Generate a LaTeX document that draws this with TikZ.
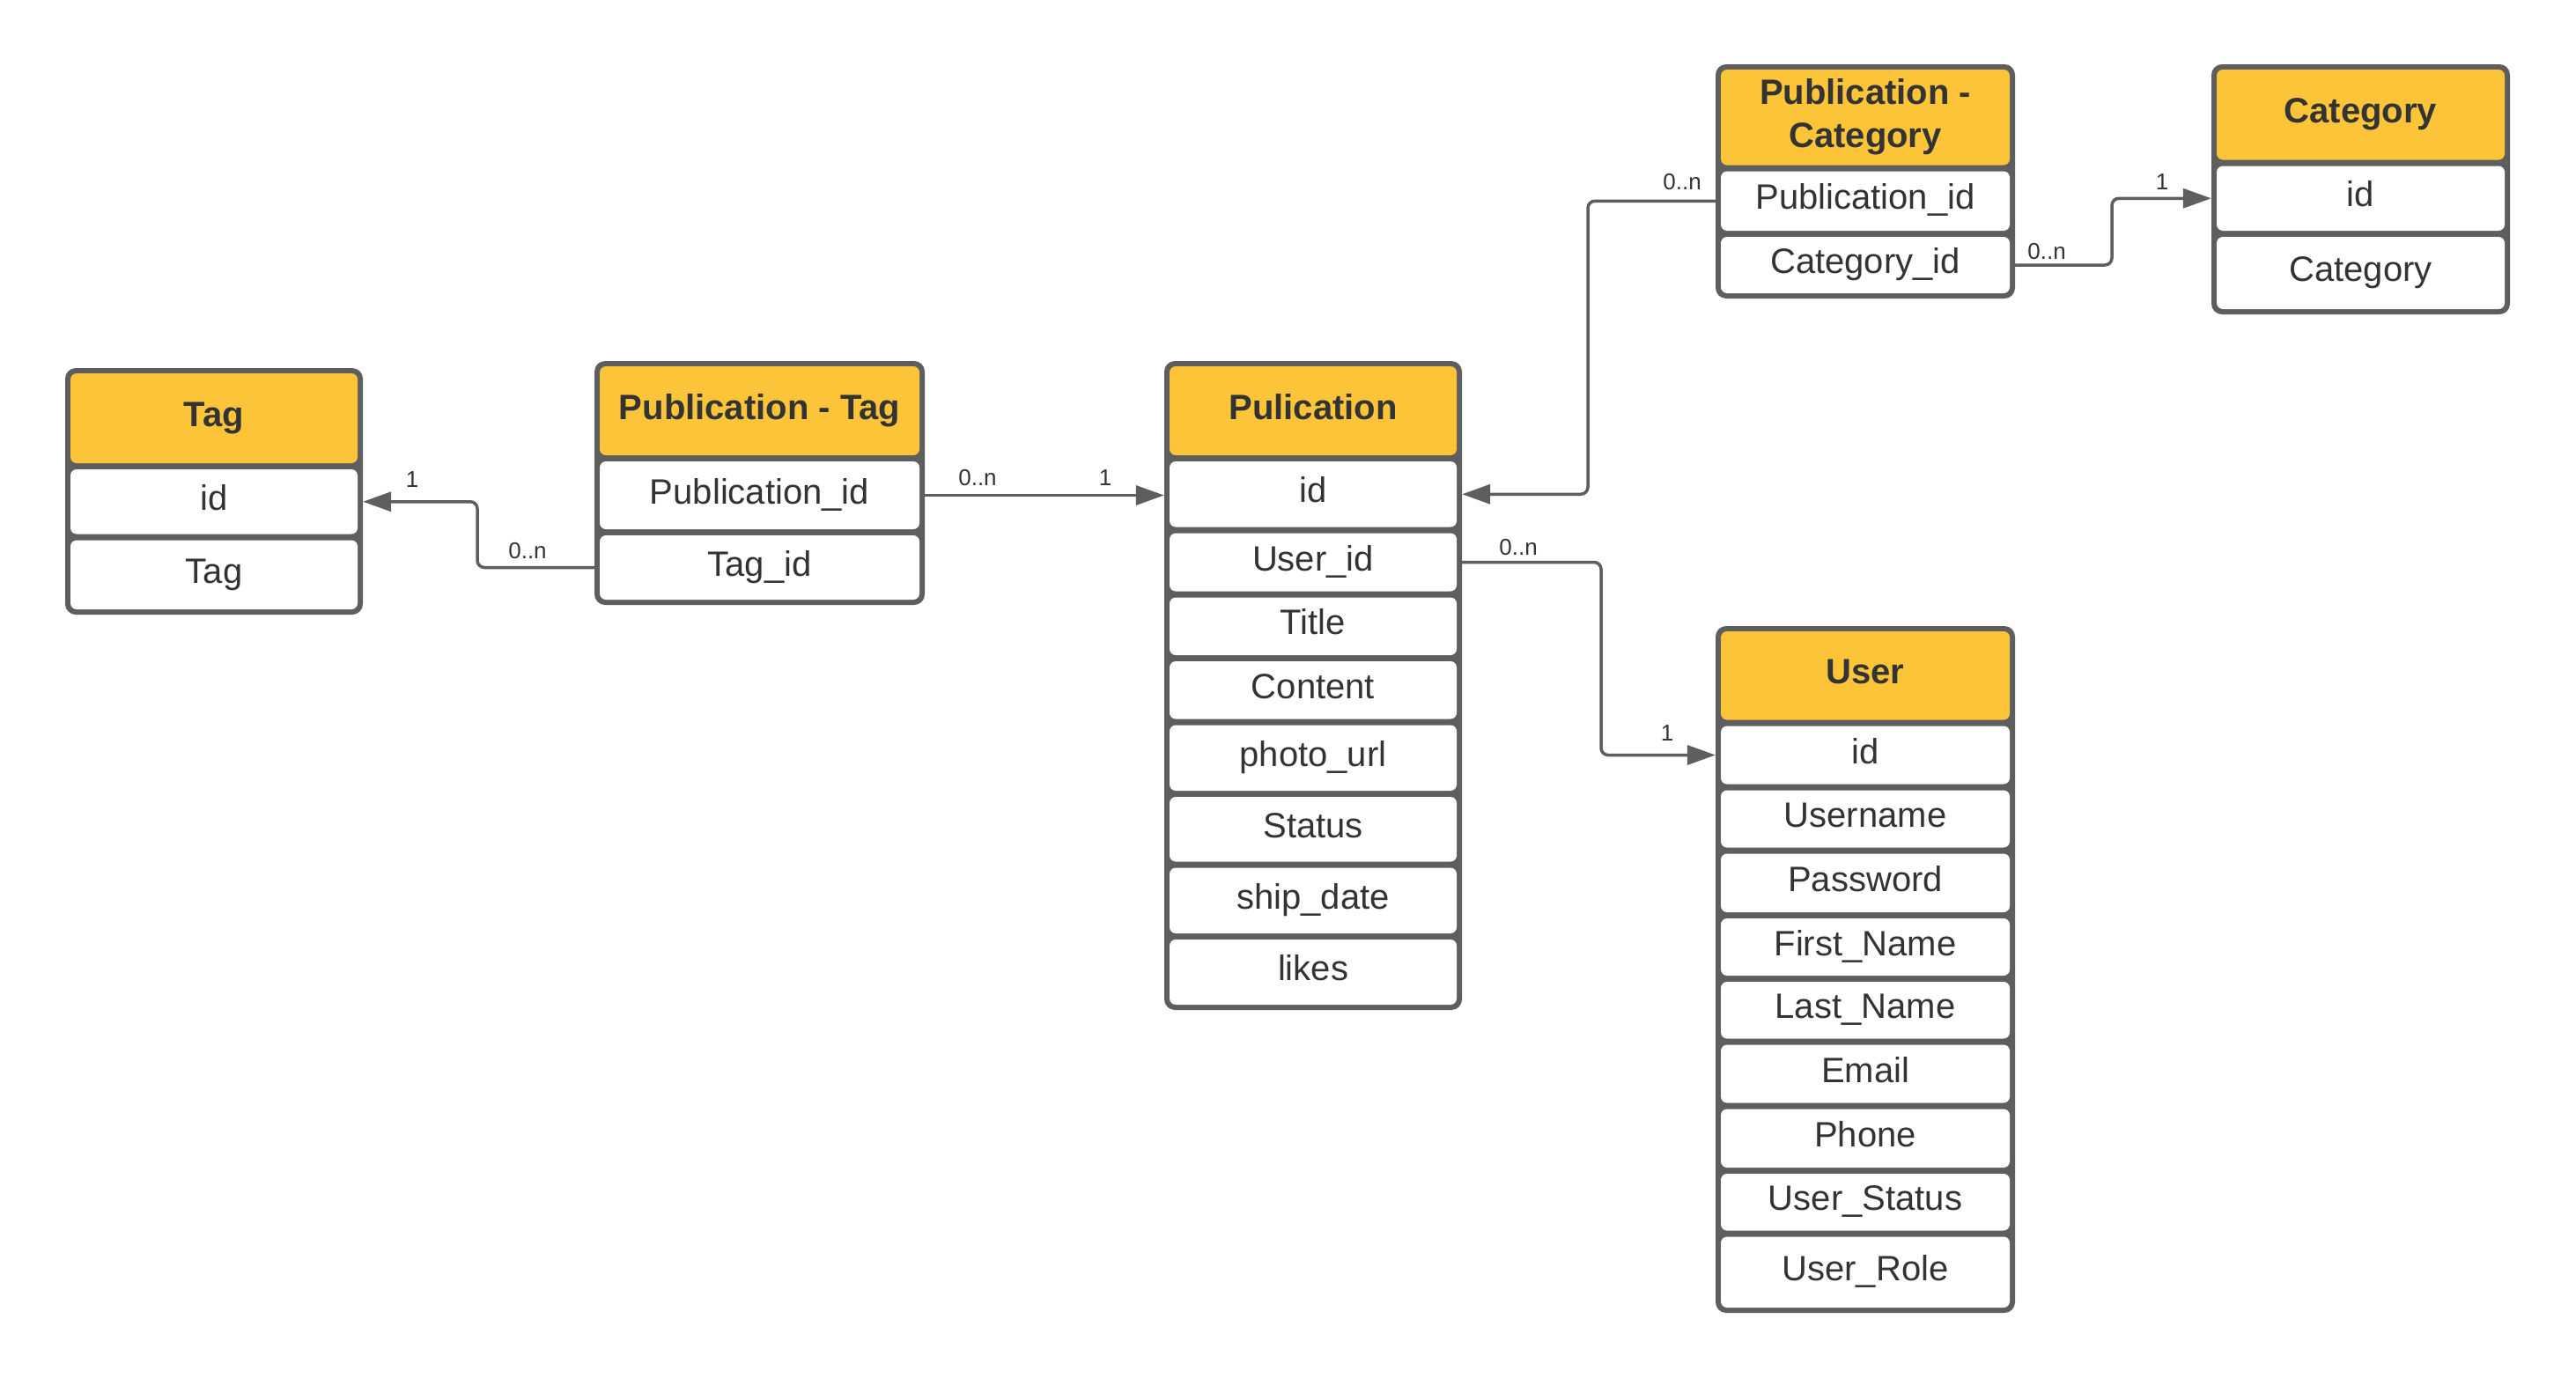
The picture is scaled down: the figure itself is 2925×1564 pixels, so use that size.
\documentclass[tikz,border=0pt]{standalone}
\usepackage{fontspec}
\setmainfont{Liberation Sans}
\usetikzlibrary{arrows.meta}
\definecolor{hdr}{HTML}{FCC438}
\definecolor{bord}{HTML}{5E5E5E}
\definecolor{txt}{HTML}{333333}
% outer frame of a table: name, x1, x2, first boundary, last boundary
\newcommand\mybox[5]{%
  \node[outerbox, minimum width={#3-#2}, minimum height={#5-#4+5}] (#1) at ({(#2+#3)/2},{(#4+#5)/2}) {};}
% one row of a table: name, x1, x2, top boundary, bottom boundary, style, text
\newcommand\myrow[7]{%
  \node[#6, minimum width={#3-#2-12}, minimum height={#5-#4-7}] (#1) at ({(#2+#3)/2},{(#4+#5)/2}) {#7};}
\begin{document}
\begin{tikzpicture}[x=1pt,y=-1pt,
  outerbox/.style={fill=bord, draw=none, rounded corners=12pt, inner sep=0pt},
  cell/.style={fill=white, draw=none, rounded corners=7pt, inner sep=0pt, text=txt,
    font=\fontsize{40}{49}\selectfont, text height=29pt, text depth=10pt},
  headcell/.style={cell, fill=hdr, font=\fontsize{40}{49}\selectfont\bfseries, align=center},
  headtwo/.style={headcell, text height=78pt},
  conn/.style={draw=bord, line width=3.5pt, rounded corners=8pt, -{Triangle[length=32pt,width=22pt]}},
  card/.style={text=txt, font=\fontsize{26}{30}\selectfont, inner sep=0pt}]
\fill[white] (0,0) rectangle (2925,1564);
\useasboundingbox (0,0) rectangle (2925,1564);

% Tag
\mybox{tag}{74}{412}{420.5}{695.5}
\myrow{tag-h}{74}{412}{420.5}{529.5}{headcell}{Tag}
\myrow{tag-id}{74}{412}{529.5}{610}{cell}{id}
\myrow{tag-tag}{74}{412}{610}{695.5}{cell}{Tag}

% Publication - Tag
\mybox{pubtag}{675}{1050}{412.5}{684.5}
\myrow{pt-h}{675}{1050}{412.5}{520.5}{headcell}{Publication - Tag}
\myrow{pt-pubid}{675}{1050}{520.5}{604.5}{cell}{Publication\_id}
\myrow{pt-tagid}{675}{1050}{604.5}{684.5}{cell}{Tag\_id}

% Pulication
\mybox{pub}{1322}{1660}{412.5}{1144.5}
\myrow{pub-h}{1322}{1660}{412.5}{520.5}{headcell}{Pulication}
\myrow{pub-id}{1322}{1660}{520.5}{602}{cell}{id}
\myrow{pub-userid}{1322}{1660}{602}{675}{cell}{User\_id}
\myrow{pub-title}{1322}{1660}{675}{747.5}{cell}{Title}
\myrow{pub-content}{1322}{1660}{747.5}{820}{cell}{Content}
\myrow{pub-photo}{1322}{1660}{820}{901.5}{cell}{photo\_url}
\myrow{pub-status}{1322}{1660}{901.5}{982}{cell}{Status}
\myrow{pub-ship}{1322}{1660}{982}{1063.5}{cell}{ship\_date}
\myrow{pub-likes}{1322}{1660}{1063.5}{1144.5}{cell}{likes}

% Publication - Category
\mybox{pubcat}{1948}{2288}{75.5}{336.5}
\myrow{pc-h}{1948}{2288}{75.5}{191}{headtwo}{Publication -\\Category}
\myrow{pc-pubid}{1948}{2288}{191}{265.5}{cell}{Publication\_id}
\myrow{pc-catid}{1948}{2288}{265.5}{336.5}{cell}{Category\_id}

% Category
\mybox{cat}{2511}{2850}{75.5}{354.5}
\myrow{cat-h}{2511}{2850}{75.5}{185}{headcell}{Category}
\myrow{cat-id}{2511}{2850}{185}{265.5}{cell}{id}
\myrow{cat-cat}{2511}{2850}{265.5}{354.5}{cell}{Category}

% User
\mybox{user}{1948}{2288}{713.5}{1488.5}
\myrow{user-h}{1948}{2288}{713.5}{821}{headcell}{User}
\myrow{user-id}{1948}{2288}{821}{894}{cell}{id}
\myrow{user-name}{1948}{2288}{894}{966}{cell}{Username}
\myrow{user-pass}{1948}{2288}{966}{1039.5}{cell}{Password}
\myrow{user-first}{1948}{2288}{1039.5}{1111.5}{cell}{First\_Name}
\myrow{user-last}{1948}{2288}{1111.5}{1183}{cell}{Last\_Name}
\myrow{user-email}{1948}{2288}{1183}{1256}{cell}{Email}
\myrow{user-phone}{1948}{2288}{1256}{1329.5}{cell}{Phone}
\myrow{user-status}{1948}{2288}{1329.5}{1401}{cell}{User\_Status}
\myrow{user-role}{1948}{2288}{1401}{1488.5}{cell}{User\_Role}

% bend points
\coordinate (c1) at (542,0);
\coordinate (c3) at (1803,0);
\coordinate (c4) at (2398,0);
\coordinate (c5) at (1818,0);

% connectors
\draw[conn] (pt-tagid -| pubtag.west) -- (pt-tagid -| c1) -- (tag-id -| c1) -- (tag-id -| tag.east);
\draw[conn] (pt-pubid -| pubtag.east) -- (pt-pubid -| pub.west);
\draw[conn] (pc-pubid -| pubcat.west) -- (pc-pubid -| c3) -- (pub-id -| c3) -- (pub-id -| pub.east);
\draw[conn] (pc-catid -| pubcat.east) -- (pc-catid -| c4) -- (cat-id -| c4) -- (cat-id -| cat.west);
\draw[conn] (pub-userid -| pub.east) -- (pub-userid -| c5) -- (user-id -| c5) -- (user-id -| user.west);

% cardinalities
\node[card] (l1) at (468,545) {1};
\node[card] (l2) at (599,626) {0..n};
\node[card] (l3) at (1110,543) {0..n};
\node[card] (l4) at (1255,543) {1};
\node[card] (l5) at (1910,207) {0..n};
\node[card] (l6) at (2324,286) {0..n};
\node[card] (l7) at (2455,207) {1};
\node[card] (l8) at (1724,622) {0..n};
\node[card] (l9) at (1893,833) {1};
\end{tikzpicture}
\end{document}
